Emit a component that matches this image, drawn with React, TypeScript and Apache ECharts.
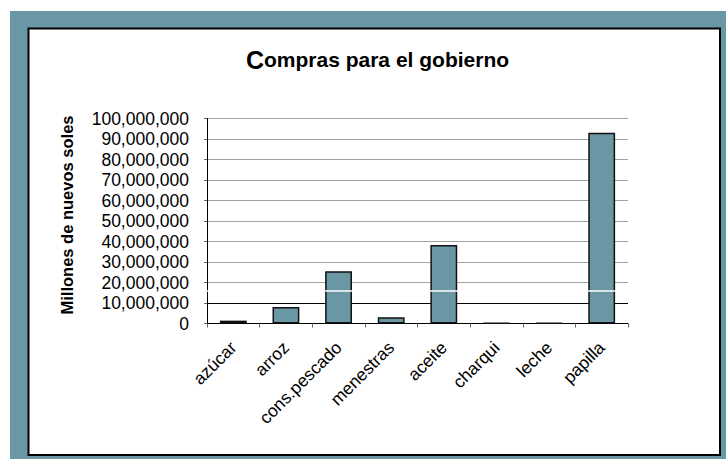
import React, { useEffect, useRef } from "react";
import * as echarts from "echarts";

const categories = ["azúcar", "arroz", "cons.pescado", "menestras", "aceite", "charqui", "leche", "papilla"];
const purchases = [1400000, 8000000, 25500000, 3100000, 38300000, 350000, 350000, 93000000];
const yMin = 0;
const yMax = 100000000;
const yStep = 10000000;
const darkGridValue = 10000000;
const whiteStreakValue = 16000000;
const titleFirst = "C";
const titleRest = "ompras para el gobierno";
const yAxisTitle = "Millones de nuevos soles";

const TEAL = "#6a97a4";
const FONT = "'Liberation Sans', Arial, sans-serif";

export default function App() {
  const ref = useRef<HTMLDivElement>(null);
  useEffect(() => {
    if (!ref.current) return;
    const chart = echarts.init(ref.current, null, { renderer: "svg" });
    const nLines = Math.round((yMax - yMin) / yStep) + 1;
    const gridColors: string[] = [];
    for (let i = 0; i < nLines; i++) {
      gridColors.push(yMin + i * yStep === darkGridValue ? "#000000" : "#a3a3a3");
    }
    chart.setOption({
      animation: false,
      backgroundColor: "#ffffff",
      textStyle: { fontFamily: FONT },
      graphic: [
        { type: "rect", z: -10, silent: true, shape: { x: 10, y: 11, width: 716, height: 448 }, style: { fill: TEAL } },
        { type: "rect", z: -9, silent: true, shape: { x: 28.5, y: 28.5, width: 691.5, height: 426.5 }, style: { fill: "#ffffff", stroke: "#000000", lineWidth: 2 } },
        {
          type: "text",
          x: 377.5,
          y: 59.5,
          style: {
            text: "{c|" + titleFirst + "}{r|" + titleRest + "}",
            align: "center",
            verticalAlign: "middle",
            rich: {
              c: { fontSize: 25, fontWeight: "bold", fontFamily: FONT, fill: "#000" },
              r: { fontSize: 21, fontWeight: "bold", fontFamily: FONT, fill: "#000" },
            },
          },
        },
        {
          type: "text",
          x: 67,
          y: 215,
          rotation: Math.PI / 2,
          style: {
            text: yAxisTitle,
            align: "center",
            verticalAlign: "middle",
            fontSize: 16.5,
            fontWeight: "bold",
            fontFamily: FONT,
            fill: "#000",
          },
        },
      ],
      grid: { left: 207, right: 98, top: 118.5, bottom: 135.5, containLabel: false },
      xAxis: {
        type: "category",
        data: categories,
        axisLine: { show: true, lineStyle: { color: "#000", width: 1 } },
        axisTick: { show: true, alignWithLabel: false, length: 4, lineStyle: { color: "#666" } },
        axisLabel: {
          rotate: 45,
          interval: 0,
          margin: 21,
          padding: [15.5, 0, 0, 0],
          fontSize: 17.5,
          color: "#000",
          fontFamily: FONT,
        },
        splitLine: { show: false },
      },
      yAxis: {
        type: "value",
        min: yMin,
        max: yMax,
        interval: yStep,
        axisLine: { show: true, lineStyle: { color: "#000", width: 1 } },
        axisTick: { show: true, length: 3, lineStyle: { color: "#666" } },
        axisLabel: {
          margin: 18,
          fontSize: 17.5,
          color: "#000",
          fontFamily: FONT,
          formatter: (v: number) => v.toLocaleString("en-US"),
        },
        splitLine: { show: true, showMinLine: true, lineStyle: { color: gridColors, width: 1 } },
      },
      series: [
        {
          type: "bar",
          data: purchases,
          barCategoryGap: "49%",
          itemStyle: { color: TEAL, borderColor: "#111", borderWidth: 1.5 },
          markLine: {
            silent: true,
            symbol: ["none", "none"],
            label: { show: false },
            lineStyle: { color: "#ffffff", width: 1.5, type: "solid" },
            data: [{ yAxis: whiteStreakValue }],
          },
        },
      ],
    });
    return () => chart.dispose();
  }, []);
  return <div ref={ref} style={{ position: "fixed", left: 0, top: 0, width: 726, height: 459 }} />;
}
